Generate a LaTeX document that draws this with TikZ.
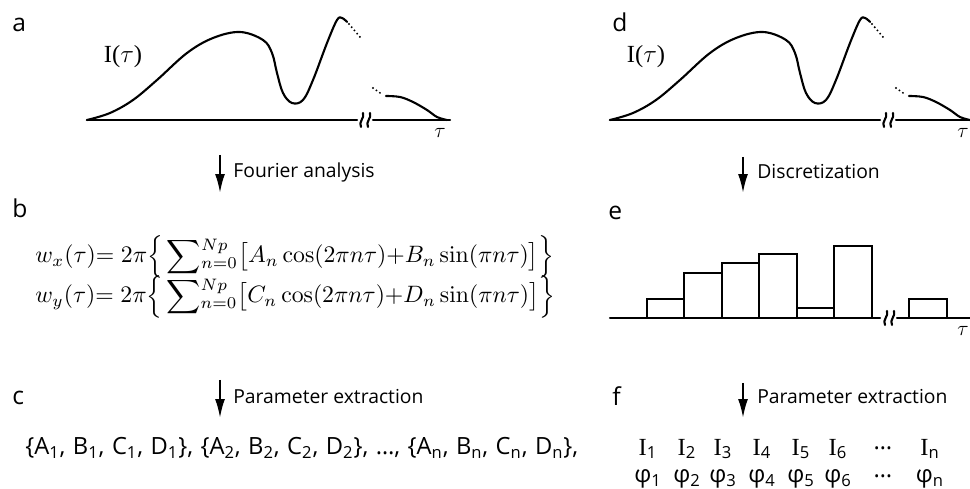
\documentclass[tikz,border=0pt]{standalone}
\usepackage[no-math]{fontspec}
\setmainfont{Open Sans}
\newfontfamily\serifI{Liberation Serif}
\usetikzlibrary{arrows.meta}

\tikzset{
  lbl/.style={font=\fontsize{14}{16}\selectfont, anchor=base west, inner sep=0pt},
  proc/.style={line width=1.2pt, -{Latex[length=3.8mm,width=2mm]}},
  proctext/.style={font=\fontsize{11}{13}\selectfont, anchor=west, inner sep=0pt},
  thickline/.style={line width=1.2pt, line join=round, line cap=round},
  dotline/.style={line width=1.2pt, line cap=round, dash pattern=on 0pt off 2.4pt},
  bar/.style={line width=1.2pt, fill=white},
  paramtext/.style={font=\fontsize{13.5}{15}\selectfont, inner sep=0pt},
  formula/.style={anchor=west, inner sep=0pt, scale=1.35},
  axbreak/.pic={
    \draw[thickline] (-5,7) .. controls (-8,2) and (-1,-2) .. (-3,-7);
    \draw[thickline] (2,7) .. controls (-1,2) and (6,-2) .. (4,-7);
  },
  intensity/.pic={
    \draw[thickline] (87,120) -- (357,120);
    \pic at (366,120) {axbreak};
    \draw[thickline] (373,120) -- (450,120);
    \draw[thickline] plot[smooth, tension=0.6] coordinates {(87,120) (110,113) (133,100) (157,80)
      (187,53) (213,38) (240,32) (263,40) (272,53) (277,73) (283,93) (292,103) (303,100)
      (313,80) (327,43) (337,20) (342,18) (347,22)};
    \draw[dotline] (349,24) -- (360,37);
    \draw[dotline] (373,88) -- (383,95);
    \draw[thickline] plot[smooth, tension=0.6] coordinates {(386,96) (400,97) (413,102)
      (427,110) (437,117) (447,120)};
    \node[font=\fontsize{14}{16}\selectfont] at (123,57) {{\serifI I(}$\tau${\serifI )}};
    \node[font=\fontsize{13}{15}\selectfont] at (440,133) {$\tau$};
  }
}

\newcommand\bigsum{\mathop{\smash{\displaystyle\sum}}\nolimits}

\begin{document}
\begin{tikzpicture}[x=0.02cm, y=-0.02cm]
  \useasboundingbox (0,0) rectangle (970,489);

  % Fourier series route
  \begin{scope}
    \pic at (0,0) {intensity};
    \node[lbl] (a) at (12,32) {a};

    \coordinate (a-out) at (220,155);
    \coordinate (b-in) at (220,193);
    \draw[proc] (a-out) -- (b-in);
    \node[proctext] (fourier) at (233,172) {Fourier analysis};

    \node[lbl] (b) at (12,218) {b};
    \node[formula] (wx) at (35,257)
      {$\displaystyle w_x(\tau){=}\;2\pi\Big\{\bigsum_{n=0}^{\raisebox{1pt}{$\scriptstyle Np$}}\!\big[A_n\cos(2\pi n\tau){+}B_n\sin(\pi n\tau)\big]\Big\}$};
    \node[formula] (wy) at (35,297)
      {$\displaystyle w_y(\tau){=}\;2\pi\Big\{\bigsum_{n=0}^{\raisebox{1pt}{$\scriptstyle Np$}}\!\big[C_n\cos(2\pi n\tau){+}D_n\sin(\pi n\tau)\big]\Big\}$};

    \coordinate (b-out) at (220,380);
    \coordinate (c-in) at (220,418);
    \draw[proc] (b-out) -- (c-in);
    \node[proctext] (extract-c) at (233,397) {Parameter extraction};

    \node[lbl] (c) at (12,404) {c};
    \node[paramtext, anchor=west] (coeffs) at (25,448)
      {\makebox[11.06cm][s]{\{A\textsubscript{1}, B\textsubscript{1}, C\textsubscript{1}, D\textsubscript{1}\},
       \{A\textsubscript{2}, B\textsubscript{2}, C\textsubscript{2}, D\textsubscript{2}\},
       \dots, \{A\textsubscript{n}, B\textsubscript{n}, C\textsubscript{n}, D\textsubscript{n}\},}};
  \end{scope}

  % Discretization route
  \begin{scope}[shift={(523,0)}]
    \pic at (0,0) {intensity};
    \node[lbl] (d) at (89,32) {d};

    \coordinate (d-out) at (220,157);
    \coordinate (e-in) at (220,193);
    \draw[proc] (d-out) -- (e-in);
    \node[proctext] (discr) at (234,172) {Discretization};

    \node[lbl] (e) at (85,220) {e};
    \draw[thickline] (87,318) -- (357,318);
    \pic at (367,318) {axbreak};
    \draw[thickline] (374,318) -- (450,318);
    \foreach \xa/\xb/\top in {124/161/299, 161/199/273, 199/236/263, 236/274/254,
                              274/311/308, 311/349/246, 386/424/299}
      \draw[bar] (\xa,318) rectangle (\xb,\top);
    \node[font=\fontsize{13}{15}\selectfont] (tau-e) at (440,331) {$\tau$};

    \coordinate (e-out) at (220,383);
    \coordinate (f-in) at (220,418);
    \draw[proc] (e-out) -- (f-in);
    \node[proctext] (extract-f) at (234,397) {Parameter extraction};

    \node[lbl] (f) at (89,405) {f};
    \foreach \cx/\k in {125/1, 164/2, 200/3, 239/4, 278/5, 315/6, 407/n} {
      \node[paramtext] (I\k) at (\cx,449) {{\serifI\fontsize{14}{16}\selectfont I}\textsubscript{\k}};
      \node[paramtext] (phi\k) at (\cx,479) {φ\textsubscript{\k}};
    }
    \node[paramtext] (Idots) at (360,448) {\dots};
    \node[paramtext] (phidots) at (360,476) {\dots};
  \end{scope}
\end{tikzpicture}
\end{document}
